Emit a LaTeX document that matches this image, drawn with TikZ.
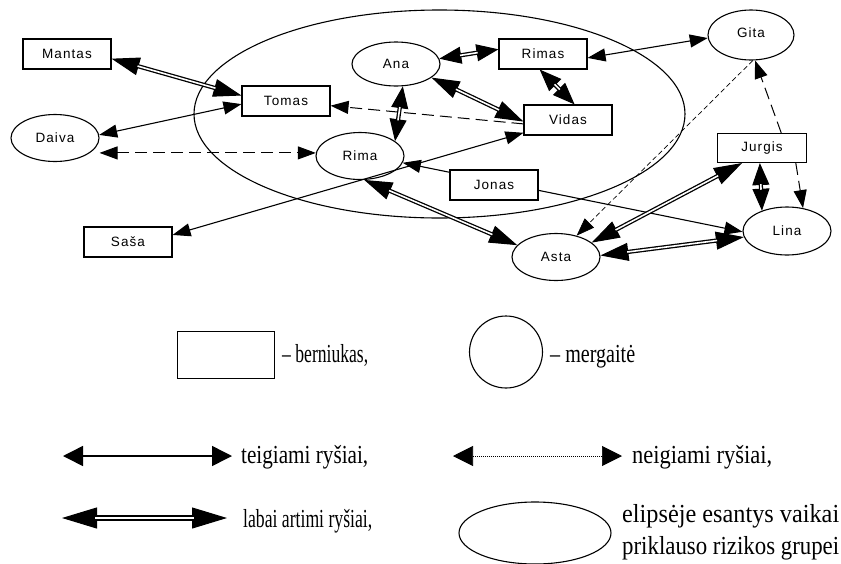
\documentclass[tikz,border=0pt]{standalone}
\usepackage{fontspec}
\usepackage{graphicx}
\usetikzlibrary{arrows.meta,shapes.geometric,calc}
\newfontfamily\nodefont[LetterSpace=8]{Liberation Sans}
\newfontfamily\legfont{Liberation Serif}
\newcommand\fitw[2]{\resizebox{#1pt}{\height}{#2}}
\tikzset{
  boy/.style={draw, line width=1.1pt, rectangle, fill=white, minimum width=88pt, minimum height=30pt, inner sep=0pt, font=\nodefont\fontsize{13.5}{15}\selectfont},
  girl/.style={draw, line width=1.1pt, ellipse, minimum width=88pt, minimum height=47pt, inner sep=0pt, font=\nodefont\fontsize{13.5}{15}\selectfont},
  stip/.tip={Triangle[length=18pt,width=13pt]},
  dtip/.tip={Triangle[length=28pt,width=18pt]},
  dtipS/.tip={Triangle[length=22pt,width=17pt]},
  posrel/.style={line width=1.1pt, stip-stip},
  negrel/.style={line width=1pt, dash pattern=on 12pt off 6pt},
  fineneg/.style={line width=0.7pt, dash pattern=on 5pt off 3pt},
  closetips/.style={line width=1pt, dtip-dtip},
  closetipsS/.style={line width=1pt, dtipS-dtipS},
  closeshaft/.style={line width=1.3pt, double=white, double distance=1.6pt, shorten <=27pt, shorten >=27pt},
  closeshaftS/.style={line width=1.3pt, double=white, double distance=1.6pt, shorten <=21pt, shorten >=21pt},
  legtext/.style={anchor=base west, inner sep=0pt, font=\legfont\fontsize{26}{30}\selectfont},
}
\newcommand\closepair[2]{%
  \draw[closetips] (#1) -- (#2);
  \draw[closeshaft] (#1) -- (#2);}
\newcommand\closepairS[2]{%
  \draw[closetipsS] (#1) -- (#2);
  \draw[closeshaftS] (#1) -- (#2);}
\begin{document}
\begin{tikzpicture}[x=1pt,y=-1pt]
\useasboundingbox (0,0) rectangle (841,563);
% risk group ellipse
\node[draw, line width=1.1pt, ellipse, minimum width=491pt, minimum height=208pt, inner sep=0pt] (risk) at (439.5,114) {};
% children
\node[boy] (mantas) at (67,54) {Mantas};
\node[boy] (tomas) at (286,101) {Tomas};
\node[boy] (sasa) at (128,242) {Saša};
\node[boy] (rimas) at (543,54) {Rimas};
\node[boy] (vidas) at (568,120) {Vidas};
\node[boy, minimum width=89pt, minimum height=29pt] (jurgis) at (762,148) {Jurgis};
\node[girl] (daiva) at (55,138) {Daiva};
\node[girl] (rima) at (360,156) {Rima};
\node[girl, minimum height=44pt] (ana) at (396,64) {Ana};
\node[girl, minimum width=86pt, minimum height=50pt] (gita) at (751,35) {\raisebox{4pt}{Gita}};
\node[girl, minimum height=48pt] (lina) at (787,231) {Lina};
\node[girl] (asta) at (556,257) {Asta};
% positive relations
\draw[posrel] (tomas.184) -- (daiva.4);
\draw[posrel] (rimas.-5) -- (gita.184);
\draw[posrel] (sasa.9) -- (vidas.196);
\draw[posrel] (rima.-9) -- (lina.181);
% negative relations
\draw[negrel, stip-stip] (daiva.east |- rima.176) -- (rima.176);
\draw[negrel, -stip] (vidas.185) -- (tomas.-6.5);
\draw[negrel, -stip] (jurgis.38) -- (gita.-81.5);
\draw[negrel, -stip] (jurgis.-24) -- (lina.55);
\draw[fineneg, -stip] (gita.-86) -- (asta.46);
% very close relations
\closepair{mantas.-6.5}{tomas.173.5}
\closepairS{ana.-73}{rima.23}
\closepairS{ana.7.8}{rimas.174.7}
\closepair{ana.-21}{vidas.182.5}
\closepairS{rimas.258}{vidas.67.6}
\closepair{rima.-80}{asta.163}
\closepairS{jurgis.-98}{lina.141}
\closepair{jurgis.217}{asta.22}
\closepair{asta.2.6}{lina.188}
% Jonas drawn over the Rima--Lina line
\node[boy] (jonas) at (494,185) {Jonas};
% legend
\node[draw, line width=1.1pt, rectangle, minimum width=97pt, minimum height=47pt, inner sep=0pt] (legboy) at (226,355) {};
\node[legtext] (legboytxt) at (282,362) {\fitw{86}{– berniukas,}};
\node[draw, line width=1.1pt, ellipse, minimum width=73pt, minimum height=72pt, inner sep=0pt] (leggirl) at (506,352) {};
\node[legtext] (leggirltxt) at (550,362) {\fitw{85}{– mergaitė}};
\coordinate (pa) at (63,456);
\coordinate (pb) at (232,456);
\draw[line width=1.5pt, {Triangle[length=20pt,width=20pt]}-{Triangle[length=20pt,width=20pt]}] (pa) -- (pb);
\node[legtext] (postxt) at (241,463) {\fitw{127}{teigiami ryšiai,}};
\coordinate (na) at (453,456);
\coordinate (nb) at (622,456);
\draw[line width=0.7pt, dash pattern=on 1pt off 1pt, {Triangle[length=20pt,width=20pt]}-{Triangle[length=20pt,width=20pt]}] (na) -- (nb);
\node[legtext] (negtxt) at (632,463) {\fitw{140}{neigiami ryšiai,}};
\coordinate (ca) at (62,518);
\coordinate (cb) at (227,518);
\draw[line width=1pt, {Triangle[length=35pt,width=21pt]}-{Triangle[length=35pt,width=21pt]}] (ca) -- (cb);
\draw[line width=2pt, double=white, double distance=2pt, shorten <=33pt, shorten >=33pt] (ca) -- (cb);
\node[legtext] (closetxt) at (243,527) {\fitw{129}{labai artimi ryšiai,}};
\node[draw, line width=1.1pt, ellipse, minimum width=152pt, minimum height=62pt, inner sep=0pt] (legrisk) at (535,533) {};
\node[legtext] (risktxt1) at (622,522) {\fitw{217}{elipsėje esantys vaikai}};
\node[legtext] (risktxt2) at (622,554) {\fitw{217}{priklauso rizikos grupei}};
\end{tikzpicture}
\end{document}
